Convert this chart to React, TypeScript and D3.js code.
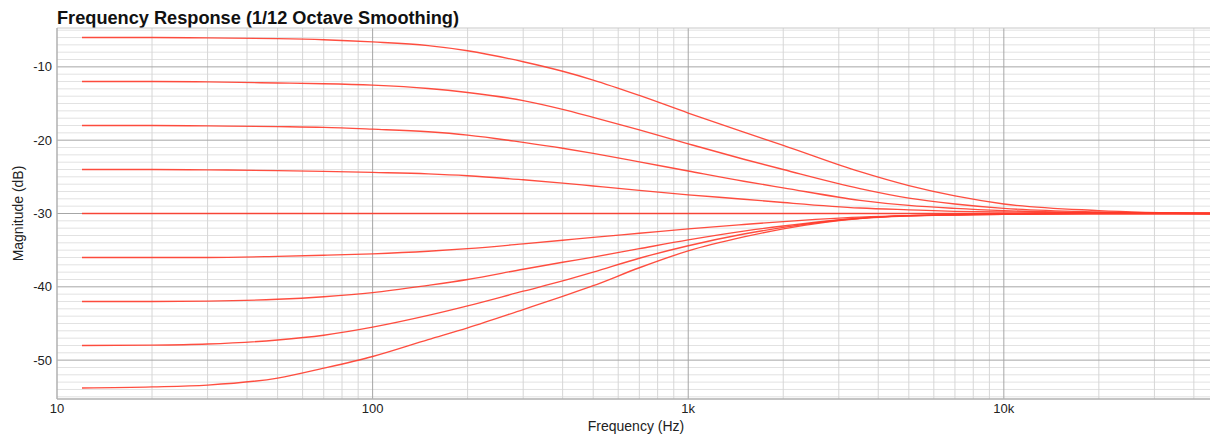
import React from "react";
import * as d3 from "d3";

// Frequency grid (Hz) shared by every response trace
const freqs = [12, 20, 30, 50, 70, 100, 150, 200, 300, 400, 500, 700, 1000, 1500, 2000, 3500, 5000, 7000, 10000, 20000, 45000];

// Magnitude (dB) of each shelving setting at the frequencies above
const boost24 = [-6.0, -6.0, -6.05, -6.15, -6.3, -6.6, -7.1, -7.8, -9.3, -10.6, -11.8, -13.9, -16.3, -18.9, -20.7, -24.3, -26.2, -27.6, -28.7, -29.6, -30.0];
const boost18 = [-12.0, -12.0, -12.05, -12.2, -12.3, -12.5, -12.95, -13.5, -14.6, -15.8, -16.9, -18.6, -20.5, -22.6, -24.0, -26.6, -27.9, -28.7, -29.3, -29.8, -30.0];
const boost12 = [-18.0, -18.0, -18.05, -18.15, -18.25, -18.5, -18.85, -19.3, -20.3, -21.1, -21.8, -22.95, -24.2, -25.6, -26.5, -28.2, -28.9, -29.3, -29.6, -29.9, -30.0];
const boost6 = [-24.0, -24.0, -24.05, -24.15, -24.25, -24.4, -24.6, -24.85, -25.4, -25.85, -26.25, -26.85, -27.45, -28.05, -28.5, -29.25, -29.5, -29.7, -29.8, -29.95, -30.0];
const flat0 = [-30, -30, -30, -30, -30, -30, -30, -30, -30, -30, -30, -30, -30, -30, -30, -30, -30, -30, -30, -30, -30];
const cut6 = [-36.0, -36.0, -36.0, -35.85, -35.7, -35.5, -35.15, -34.8, -34.15, -33.65, -33.25, -32.7, -32.1, -31.5, -31.1, -30.5, -30.3, -30.2, -30.1, -30.0, -30.0];
const cut12 = [-42.0, -42.0, -41.95, -41.7, -41.35, -40.8, -39.8, -39.0, -37.6, -36.65, -35.95, -34.8, -33.6, -32.4, -31.7, -30.65, -30.3, -30.15, -30.1, -30.0, -30.0];
const cut18 = [-48.0, -47.95, -47.8, -47.25, -46.6, -45.5, -43.9, -42.6, -40.6, -39.2, -38.0, -36.1, -34.4, -32.8, -31.9, -30.65, -30.3, -30.15, -30.05, -30.0, -30.0];
const cut24 = [-53.8, -53.65, -53.4, -52.45, -51.1, -49.5, -47.2, -45.6, -43.1, -41.3, -39.85, -37.4, -35.1, -33.2, -32.1, -30.7, -30.35, -30.2, -30.1, -30.0, -30.0];

const traces = [boost24, boost18, boost12, boost6, flat0, cut6, cut12, cut18, cut24];

// Axis ticks
const xMajorTicks = [10, 100, 1000, 10000];
const xTickLabels = ["10", "100", "1k", "10k"];
const yMajorTicks = [-10, -20, -30, -40, -50];
const yTickLabels = ["-10", "-20", "-30", "-40", "-50"];

const W = 1210;
const H = 438;
const left = 57;
const right = 1210;
const top = 28;
const bottom = 399;

export default function App() {
  const x = d3.scaleLog().domain([10, 45000]).range([left, right]);
  const y = d3.scaleLinear().domain([-55.3, -4.7]).range([bottom, top]);

  const xMinor: number[] = [];
  for (const dec of [10, 100, 1000, 10000]) {
    for (let k = 2; k <= 9; k++) {
      const f = dec * k;
      if (f <= 45000) xMinor.push(f);
    }
  }
  const yMinor = d3.range(-55, -4, 1).filter((v) => v % 10 !== 0);

  const line = d3
    .line<number>()
    .x((_, i) => x(freqs[i]))
    .y((d) => y(d))
    .curve(d3.curveMonotoneX);

  const font = "'Liberation Sans', Arial, Helvetica, sans-serif";

  return (
    <svg
      width={W}
      height={H}
      style={{ position: "fixed", left: 0, top: 0, background: "#fff" }}
      fontFamily={font}
    >
      <rect x={0} y={0} width={W} height={H} fill="#fff" />
      <text x={57} y={24} fontSize={17.5} fontWeight="bold" fill="#111" textLength={402} lengthAdjust="spacingAndGlyphs">
        Frequency Response (1/12 Octave Smoothing)
      </text>

      {/* minor grid */}
      <g stroke="#e2e2e2" strokeWidth={1}>
        {yMinor.map((v) => (
          <line key={"ym" + v} x1={left} x2={right} y1={y(v)} y2={y(v)} />
        ))}
        {xMinor.map((f) => (
          <line key={"xm" + f} x1={x(f)} x2={x(f)} y1={top} y2={bottom} stroke="#d6d6d6" />
        ))}
      </g>

      {/* major grid */}
      <g stroke="#a6a6a6" strokeWidth={1}>
        {yMajorTicks.map((v) => (
          <line key={"yM" + v} x1={left} x2={right} y1={y(v)} y2={y(v)} />
        ))}
        {xMajorTicks.slice(1).map((f) => (
          <line key={"xM" + f} x1={x(f)} x2={x(f)} y1={top} y2={bottom} />
        ))}
      </g>

      {/* frame */}
      <line x1={left} x2={right} y1={top} y2={top} stroke="#c8c8c8" />
      <line x1={left} x2={left} y1={top} y2={bottom} stroke="#b0b0b0" strokeWidth={1.5} />
      <line x1={left} x2={right} y1={bottom} y2={bottom} stroke="#b0b0b0" strokeWidth={1.5} />

      {/* tick labels */}
      <g fontSize={13} fill="#222">
        {yMajorTicks.map((v, i) => (
          <text key={"yl" + v} x={52} y={y(v) + 4.5} textAnchor="end">
            {yTickLabels[i]}
          </text>
        ))}
        {xMajorTicks.map((f, i) => (
          <text key={"xl" + f} x={x(f)} y={413} textAnchor="middle">
            {xTickLabels[i]}
          </text>
        ))}
      </g>

      <text x={636} y={431} fontSize={14} fill="#222" textAnchor="middle">
        Frequency (Hz)
      </text>
      <text
        transform={`translate(23, ${(top + bottom) / 2}) rotate(-90)`}
        fontSize={14}
        fill="#222"
        textAnchor="middle"
      >
        Magnitude (dB)
      </text>

      {/* response traces */}
      <g fill="none" stroke="#ff3b2b" strokeWidth={1.35} strokeOpacity={0.9}>
        {traces.map((t, i) => (
          <path key={"t" + i} d={line(t) ?? ""} />
        ))}
      </g>
    </svg>
  );
}
